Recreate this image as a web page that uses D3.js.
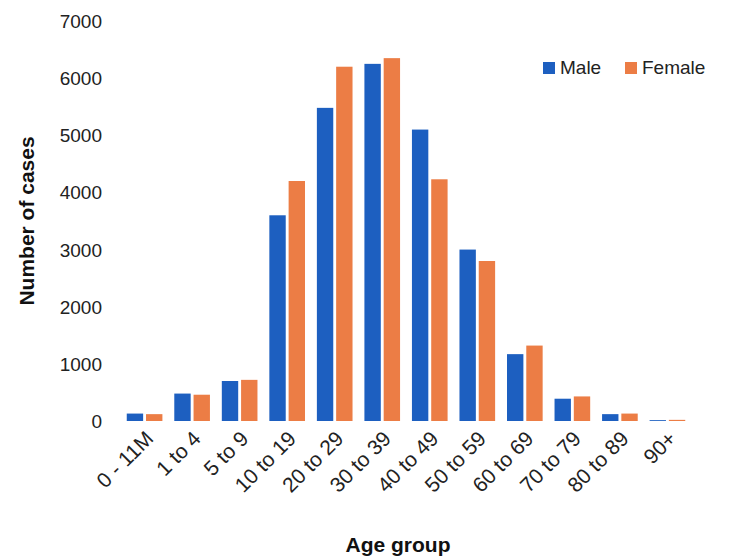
<!DOCTYPE html>
<html><head><meta charset="utf-8">
<script src="https://cdn.jsdelivr.net/npm/d3@7"></script>
<style>body{margin:0;background:#fff}text{font-family:"Liberation Sans",Arial,sans-serif}</style>
</head><body><div id="chart"></div>
<script>
var categories = ["0 - 11M","1 to 4","5 to 9","10 to 19","20 to 29","30 to 39","40 to 49","50 to 59","60 to 69","70 to 79","80 to 89","90+"];
var male = [130,480,700,3600,5480,6250,5100,3000,1170,390,120,15];
var female = [120,460,720,4200,6200,6350,4230,2800,1320,430,130,20];
var yTicks = [0,1000,2000,3000,4000,5000,6000,7000];
var series = [{name:"Male",values:male,color:"#1d5fc0"},{name:"Female",values:female,color:"#ec7d45"}];

var svg = d3.select("#chart").append("svg").attr("width",737).attr("height",557);
var x = d3.scaleBand().domain(categories).range([122,690]).paddingInner(0.25).paddingOuter(0.1);
var x1 = d3.scaleBand().domain(["Male","Female"]).range([0,x.bandwidth()]).paddingInner(0.15);
var y = d3.scaleLinear().domain([0,7000]).range([421,21]);

svg.selectAll(".yt").data(yTicks).enter().append("text")
  .attr("x",102).attr("y",function(d){return y(d)+7;}).attr("text-anchor","end")
  .attr("font-size",19).attr("fill","#222").text(function(d){return d;});

series.forEach(function(s){
  svg.append("g").selectAll("rect").data(s.values).enter().append("rect")
    .attr("x",function(d,i){return x(categories[i])+x1(s.name);})
    .attr("width",x1.bandwidth())
    .attr("y",function(d){return y(d);})
    .attr("height",function(d){return y(0)-y(d);})
    .attr("fill",s.color);
});

svg.selectAll(".xt").data(categories).enter().append("text")
  .attr("transform",function(d){return "translate("+(x(d)+x.bandwidth()/2+10)+",440) rotate(-45)";})
  .attr("text-anchor","end").attr("font-size",21).attr("fill","#222").text(function(d){return d;});

svg.append("text").attr("transform","translate(34,221) rotate(-90)").attr("text-anchor","middle")
  .attr("font-size",21).attr("font-weight","bold").attr("fill","#111").text("Number of cases");
svg.append("text").attr("x",398).attr("y",552).attr("text-anchor","middle")
  .attr("font-size",21).attr("font-weight","bold").attr("fill","#111").text("Age group");

var lg = svg.append("g").attr("transform","translate(543,62)");
series.forEach(function(s,i){
  var g = lg.append("g").attr("transform","translate("+(i*82)+",0)");
  g.append("rect").attr("width",12).attr("height",12).attr("fill",s.color);
  g.append("text").attr("x",17).attr("y",12).attr("font-size",19).attr("fill","#222").text(s.name);
});
</script></body></html>
